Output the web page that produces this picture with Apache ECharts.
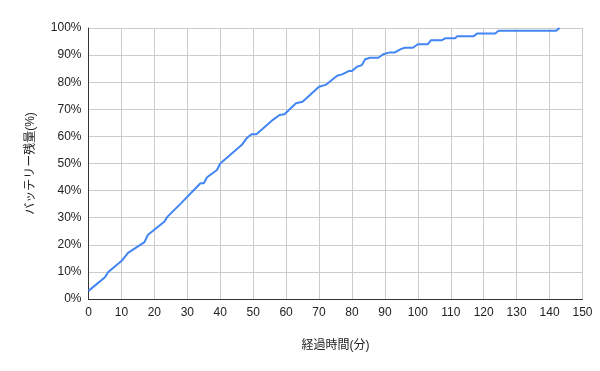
<!DOCTYPE html>
<html>
<head>
<meta charset="utf-8">
<script src="https://cdn.jsdelivr.net/npm/echarts@6/dist/echarts.min.js"></script>
<style>html,body{margin:0;padding:0;background:#fff}#c{width:600px;height:371px}</style>
</head>
<body>
<div id="c"></div>
<script>
const minutes = [0,5,6,10,12,17,18,23,24,28,32,34,35,36,39,40,46.5,48,49.5,51,56,58,59.5,63,65,70,72,75.5,77,79,80,81.5,83,84,85.5,88,89.5,91.5,93,95,96,98.5,100,103,104,107.3,108.3,111.3,112,117,118,123.5,124.5,142,143];
const battery = [3,8,10,14,17,21,23.6,28.5,30.4,35.2,40.2,42.7,42.7,44.9,47.6,50,56.8,59.3,60.8,60.8,66.1,67.9,68.2,72.2,72.8,78.3,79,82.4,82.9,84.1,84.1,85.7,86.3,88.5,89,89,90.3,91,91,92.3,92.7,92.7,94,94,95.5,95.5,96.2,96.2,97,97,98,98,99,99,100];
const xTicks = {min:0, max:150, interval:10};
const yTicks = {min:0, max:100, interval:10};
const xTitle = '経過時間(分)';
const yTitle = 'バッテリー残量(%)';

const font = 'Arial, "Liberation Sans", "Noto Sans CJK JP", sans-serif';
const chart = echarts.init(document.getElementById('c'), null, {renderer:'canvas'});
chart.setOption({
  animation:false,
  backgroundColor:'#fff',
  grid:{left:88.5, right:17.5, top:28, bottom:72, containLabel:false},
  xAxis:{
    type:'value', min:xTicks.min, max:xTicks.max, interval:xTicks.interval,
    name:xTitle, nameLocation:'middle', nameGap:41,
    nameTextStyle:{color:'#222', fontSize:12, fontFamily:font},
    axisLine:{show:true, lineStyle:{color:'#333', width:1}},
    axisTick:{show:false},
    axisLabel:{color:'#222', fontSize:12, fontFamily:font, margin:8},
    splitLine:{show:true, lineStyle:{color:'#ccc', width:1}}
  },
  yAxis:{
    type:'value', min:yTicks.min, max:yTicks.max, interval:yTicks.interval,
    name:yTitle, nameLocation:'middle', nameGap:52, nameRotate:90,
    nameTextStyle:{color:'#222', fontSize:12, fontFamily:font},
    axisLine:{show:true, lineStyle:{color:'#333', width:1}},
    axisTick:{show:false},
    axisLabel:{color:'#222', fontSize:12, fontFamily:font, margin:7, formatter:'{value}%'},
    splitLine:{show:true, lineStyle:{color:'#ccc', width:1}}
  },
  series:[{
    type:'line', data:minutes.map((m,i)=>[m,battery[i]]),
    showSymbol:false, symbol:'none',
    lineStyle:{color:'#4285F4', width:2}, itemStyle:{color:'#4285F4'}
  }]
});
</script>
</body>
</html>
